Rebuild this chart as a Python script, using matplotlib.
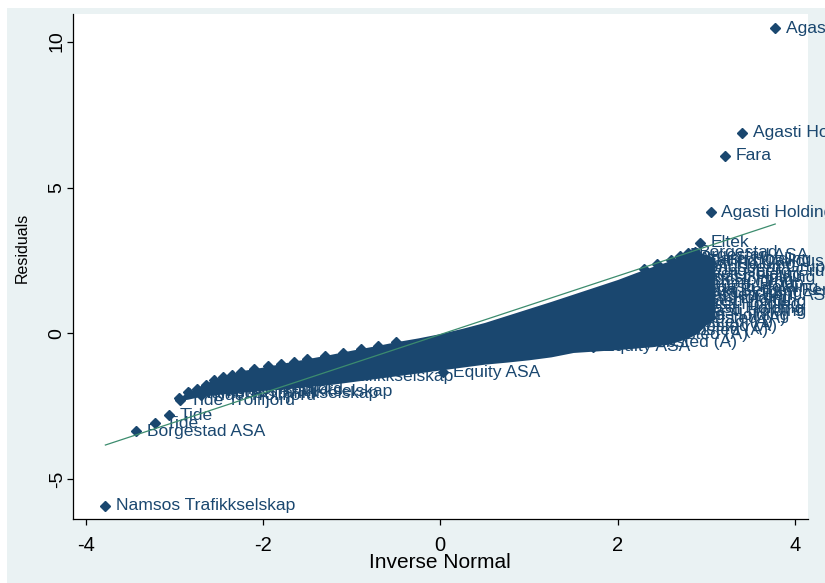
import matplotlib
matplotlib.use('Agg')
import matplotlib.pyplot as plt
from matplotlib.patches import Rectangle

plt.rcParams['font.family'] = ['Liberation Sans', 'DejaVu Sans']

NAVY = '#1A476F'
GREEN = '#3C8C6E'
BG = '#EAF2F3'

# Reference (normal) line end points
ref_x = [-3.78, 3.78]
ref_y = [-3.82, 3.75]

# Dense core of the residual cloud (upper / lower envelope)
core_x = [-2.95, -2.85, -2.7, -2.55, -2.4, -2.2, -2.0, -1.75, -1.5, -1.25, -1.0, -0.75, -0.5,
          -0.25, 0.0, 0.25, 0.5, 0.75, 1.0, 1.25, 1.5, 1.75, 2.0, 2.2, 2.4, 2.6, 2.8, 2.9, 3.0, 3.1]
core_upper = [-2.2, -2.0, -1.8, -1.55, -1.42, -1.25, -1.15, -1.0, -0.86, -0.72, -0.57, -0.43, -0.28,
              -0.15, 0.0, 0.18, 0.38, 0.62, 0.86, 1.1, 1.35, 1.6, 1.85, 2.08, 2.3, 2.5, 2.72, 2.8, 2.7, 2.6]
core_lower = [-2.3, -2.25, -2.15, -2.1, -2.05, -2.0, -1.95, -1.9, -1.82, -1.75, -1.65, -1.55, -1.45,
              -1.35, -1.25, -1.15, -1.05, -0.98, -0.9, -0.8, -0.65, -0.6, -0.55, -0.5, -0.45, -0.35, -0.15, 0.0, 0.3, 0.5]

# Upper edge observations (visible diamonds along the top of the cloud)
edge_x = [-2.95, -2.85, -2.75, -2.65, -2.55, -2.45, -2.35, -2.25, -2.1, -1.95, -1.8, -1.65, -1.5,
          -1.3, -1.1, -0.9, -0.7, -0.5, 2.3, 2.45, 2.6, 2.7, 2.8, 2.87]
edge_y = [-2.2, -2.02, -1.9, -1.75, -1.6, -1.5, -1.43, -1.33, -1.22, -1.13, -1.05, -0.96, -0.88,
          -0.77, -0.66, -0.54, -0.43, -0.3, 2.2, 2.38, 2.52, 2.62, 2.72, 2.8]

# Labelled observations
pt_x = [3.78, 3.41, 3.21, 3.05, 2.93,
        -3.78, -3.43, -3.22, -3.06, -2.94, -2.84, -2.70, -2.68, -2.40, -2.00,
        0.03, 1.72, 2.17, 2.05, 2.40,
        2.80, 2.70, 2.80, 2.90, 2.62, 2.78, 2.88, 2.70, 2.85, 2.60, 2.75, 2.88, 2.66,
        2.70, 2.82, 2.58, 2.75, 2.68, 2.72, 2.75, 2.55, 2.60, 2.45, 2.50]
pt_y = [10.46, 6.87, 6.08, 4.16, 3.10,
        -5.90, -3.34, -3.08, -2.80, -2.28, -2.05, -2.12, -1.98, -1.92, -1.48,
        -1.33, -0.45, -0.05, -0.30, 0.10,
        2.76, 2.66, 2.55, 2.46, 2.36, 2.25, 2.12, 2.02, 1.92, 1.82, 1.70, 1.58, 1.48,
        1.40, 1.30, 1.20, 1.09, 0.98, 0.86, 0.75, 0.62, 0.50, 0.38, 0.25]
pt_label = ["Agasti Holding", "Agasti Holding", "Fara", "Agasti Holding", "Eltek",
            "Namsos Trafikkselskap", "Borgestad ASA", "Tide", "Tide", "Tide Trollfjord",
            "Namsos Trafikkselskap", "Tide Trollfjord", "Namsos Trafikkselskap",
            "Tide Trollfjord", "Namsos Trafikkselskap",
            "Equity ASA", "Equity ASA", "Schibsted (A)", "Schibsted (A)", "Schibsted (A)",
            "Borgestad", "Borgestad ASA", "Agasti Holding", "Tallind Callidus",
            "Agasti Holding", "Kongsberg Gruppen", "Kongsberg Gruppen", "Agasti Holding",
            "Agasti Holding", "Agasti Holding", "Bergen Group", "Agasti Holding",
            "Scana Bergen Ferd", "Agasti Holding", "Bergen Berit ASA", "Agasti Holding",
            "Agasti Holding", "Agasti Holding", "Agasti Holding", "Agasti Holding",
            "Agasti Holding", "Schibsted (A)", "Schibsted (A)", "Schibsted (A)"]

xticks = [-4, -2, 0, 2, 4]
yticks = [-5, 0, 5, 10]

fig = plt.figure(figsize=(8.25, 5.83), dpi=100, facecolor='white')
fig.patches.append(Rectangle((7 / 825, 0), 1, 1 - 8 / 583, transform=fig.transFigure,
                             facecolor=BG, edgecolor='none', zorder=-10))
ax = fig.add_axes([72.6 / 825, 1 - 518.6 / 583, (808 - 72.6) / 825, (518.6 - 14.1) / 583])
ax.set_facecolor('white')

ax.fill_between(core_x, core_lower, core_upper, color=NAVY, linewidth=0, zorder=2)
ax.plot(edge_x, edge_y, linestyle='none', marker='D', markersize=5.3,
        color=NAVY, zorder=3)
ax.plot(pt_x, pt_y, linestyle='none', marker='D', markersize=5.3, color=NAVY, zorder=3)
for x, y, s in zip(pt_x, pt_y, pt_label):
    ax.annotate(s, (x, y), xytext=(7.5, 0), textcoords='offset points',
                va='center', ha='left', fontsize=12.6, color=NAVY,
                annotation_clip=False, zorder=4)

ax.plot(ref_x, ref_y, color=GREEN, linewidth=0.9, zorder=5)

ax.set_xlim(-4.15, 4.15)
ax.set_ylim(-6.34, 10.94)
ax.set_xticks(xticks)
ax.set_yticks(yticks)
ax.set_xticklabels([str(t) for t in xticks])
ax.set_yticklabels([str(t) for t in yticks], rotation=90, va='center')
for side in ['top', 'right']:
    ax.spines[side].set_visible(False)
for side in ['left', 'bottom']:
    ax.spines[side].set_linewidth(0.9)
ax.tick_params(direction='out', length=4.5, width=0.9)
ax.tick_params(axis='x', labelsize=14.5, pad=8)
ax.tick_params(axis='y', labelsize=14, pad=0.5)
ax.set_xlabel('Inverse Normal', fontsize=15)
ax.set_ylabel('Residuals', fontsize=11.5)
ax.xaxis.set_label_coords(0.5, -0.088)
ax.xaxis.label.set_va('center')
ax.yaxis.set_label_coords(-0.0688, 0.536)
ax.yaxis.label.set_va('center')

fig.savefig('out.png', dpi=100, facecolor=fig.get_facecolor())
